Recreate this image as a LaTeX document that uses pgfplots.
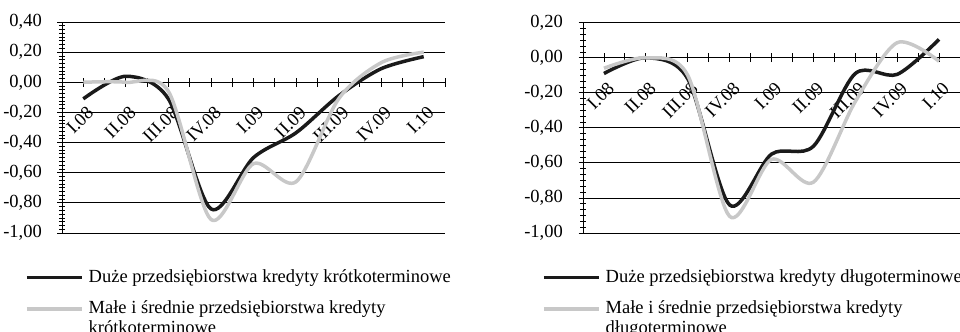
\documentclass[border=0pt]{standalone}
\usepackage{pgfplots}
\pgfplotsset{compat=1.18}
\usepackage{fontspec}
\setmainfont{Liberation Serif}
\definecolor{dk}{RGB}{26,26,26}
\definecolor{lg}{RGB}{200,200,200}
\newcommand\fs{\fontsize{18.5bp}{20bp}\selectfont}

\pgfplotsset{
 mystyle/.style={
  scale only axis,
  anchor=south west,
  xmin=-0.5, xmax=8.5,
  ymin=-1,
  axis x line=middle,
  axis y line=left,
  axis line style={-, black, line width=1bp},
  hide obscured x ticks=false,
  hide obscured y ticks=false,
  xtick={-0.5,0,0.5,1,1.5,2,2.5,3,3.5,4,4.5,5,5.5,6,6.5,7,7.5,8,8.5},
  xticklabels={,I.08,,II.08,,III.08,,IV.08,,I.09,,II.09,,III.09,,IV.09,,I.10,},
  tick align=center,
  major tick length=9bp,
  minor tick length=6bp,
  tick style={black, line width=0.8bp},
  ymajorgrids,
  grid style={black, line width=0.8bp},
  tick label style={font=\fs},
  xticklabel style={xshift=2.5bp, yshift=-18.5bp, rotate=45, anchor=north east, inner sep=0pt},
  yticklabel style={anchor=east, inner sep=0pt, xshift=-15.5bp},
  legend style={draw=none, fill=none, inner sep=0pt, anchor=north west, font=\fs,
     cells={anchor=base west, inner sep=0pt}, row sep=12bp, column sep=3bp},
  legend image code/.code={\draw[#1] (0bp,5bp) -- (55bp,5bp);},
  every axis plot/.append style={smooth, line width=3.5bp, line join=round, no markers},
 }
}

\begin{document}
\begin{tikzpicture}
\path[use as bounding box] (0,0) rectangle (960bp,332bp);

% left chart
\begin{axis}[mystyle,
  at={(62bp,99bp)}, width=383bp, height=211bp,
  ymax=0.4,
  ytick={-1,-0.8,-0.6,-0.4,-0.2,0,0.2,0.4},
  yticklabels={{-1,00},{-0,80},{-0,60},{-0,40},{-0,20},{0,00},{0,20},{0,40}},
  minor y tick num=7,
  legend style={at={(-0.0966,-0.163)}},
]
\addplot[dk] coordinates {(0,-0.11) (1,0.04) (2,-0.11) (3,-0.84) (4,-0.50) (5,-0.335) (6,-0.09) (7,0.09) (8,0.17)};
\addlegendentry{Duże przedsiębiorstwa kredyty krótkoterminowe}
\addplot[lg] coordinates {(0,0.00) (1,0.00) (2,-0.06) (3,-0.91) (4,-0.54) (5,-0.66) (6,-0.11) (7,0.13) (8,0.20)};
\addlegendentry{\begin{tabular}[t]{@{}l@{}}Małe i średnie przedsiębiorstwa kredyty\\krótkoterminowe\end{tabular}}
\end{axis}

% right chart
\begin{axis}[mystyle,
  at={(583bp,99bp)}, width=377bp, height=210.3bp,
  ymax=0.2,
  ytick={-1,-0.8,-0.6,-0.4,-0.2,0,0.2},
  yticklabels={{-1,00},{-0,80},{-0,60},{-0,40},{-0,20},{0,00},{0,20}},
  minor y tick num=5,
  legend style={at={(-0.1088,-0.1636)}},
]
\addplot[dk] coordinates {(0,-0.09) (1,0.00) (2,-0.12) (3,-0.84) (4,-0.55) (5,-0.505) (6,-0.09) (7,-0.095) (8,0.105)};
\addlegendentry{Duże przedsiębiorstwa kredyty długoterminowe}
\addplot[lg] coordinates {(0,-0.06) (1,0.00) (2,-0.10) (3,-0.905) (4,-0.58) (5,-0.71) (6,-0.25) (7,0.086) (8,-0.02)};
\addlegendentry{\begin{tabular}[t]{@{}l@{}}Małe i średnie przedsiębiorstwa kredyty\\długoterminowe\end{tabular}}
\end{axis}
\end{tikzpicture}
\end{document}
